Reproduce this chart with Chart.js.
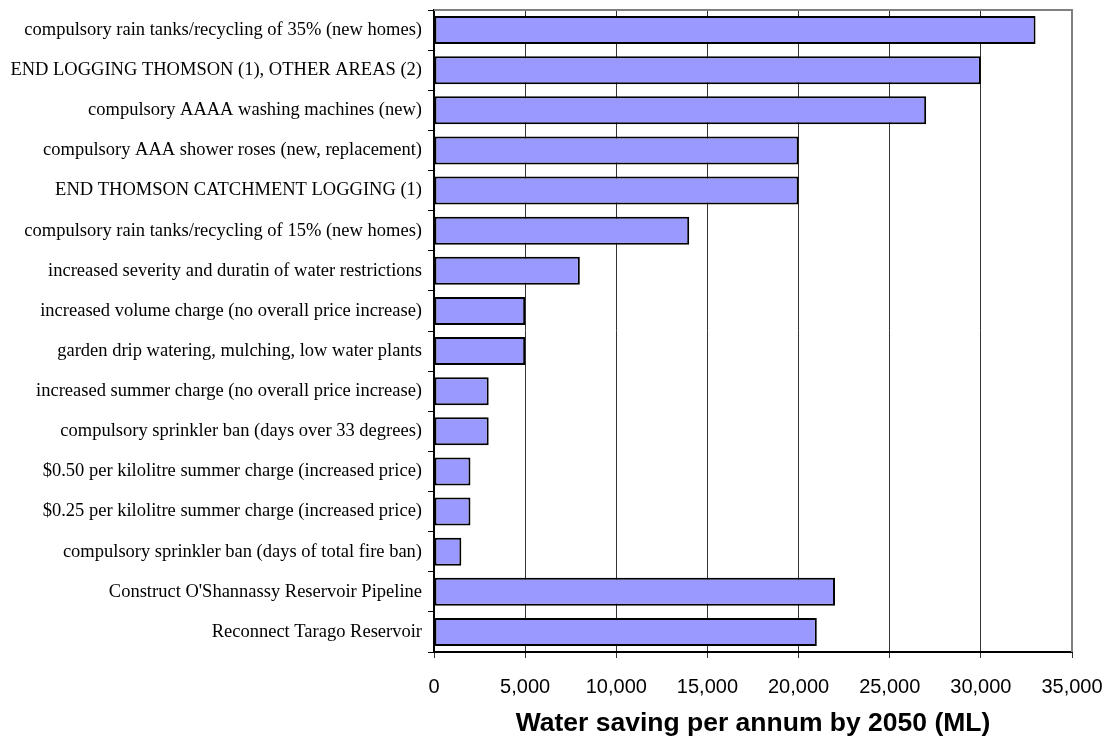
<!DOCTYPE html>
<html>
<head>
<meta charset="utf-8">
<script src="https://cdn.jsdelivr.net/npm/chart.js@4"></script>
<style>
  body { margin: 0; background: #fff; }
  #wrap { width: 1110px; height: 740px; }
</style>
</head>
<body>
<div id="wrap"><canvas id="myChart"></canvas></div>
<script>
// measures, top to bottom
var measures = [
    'compulsory rain tanks/recycling of 35% (new homes)',
    'END LOGGING THOMSON (1), OTHER AREAS (2)',
    'compulsory AAAA washing machines (new)',
    'compulsory AAA shower roses (new, replacement)',
    'END THOMSON CATCHMENT LOGGING (1)',
    'compulsory rain tanks/recycling of 15% (new homes)',
    'increased severity and duratin of water restrictions',
    'increased volume charge (no overall price increase)',
    'garden drip watering, mulching, low water plants',
    'increased summer charge (no overall price increase)',
    'compulsory sprinkler ban (days over 33 degrees)',
    '$0.50 per kilolitre summer charge (increased price)',
    '$0.25 per kilolitre summer charge (increased price)',
    'compulsory sprinkler ban (days of total fire ban)',
    "Construct O'Shannassy Reservoir Pipeline",
    'Reconnect Tarago Reservoir'
];
// ML per annum by 2050
var savings = [33000, 30000, 27000, 20000, 20000, 14000, 8000, 5000, 5000, 3000, 3000, 2000, 2000, 1500, 22000, 21000];
var xTicks = [0, 5000, 10000, 15000, 20000, 25000, 30000, 35000];

// gray frame on top and right of the plot
var frame = {
    id: 'frame',
    beforeDatasetsDraw: function (chart) {
        var a = chart.chartArea, c = chart.ctx;
        c.save();
        c.strokeStyle = '#808080';
        c.lineWidth = 2;
        c.beginPath();
        c.moveTo(a.left, a.top);
        c.lineTo(a.right, a.top);
        c.lineTo(a.right, a.bottom);
        c.stroke();
        c.restore();
    }
};

var ctx = document.getElementById('myChart').getContext('2d');
var chart = new Chart(ctx, {
    type: 'bar',
    data: {
        labels: measures,
        datasets: [{
            data: savings,
            backgroundColor: '#9999FF',
            borderColor: '#000',
            borderWidth: 2,
            borderSkipped: false,
            categoryPercentage: 1,
            barPercentage: 0.7
        }]
    },
    plugins: [frame],
    options: {
        indexAxis: 'y',
        responsive: true,
        maintainAspectRatio: false,
        animation: false,
        layout: { padding: { left: 0, top: 10, right: 38, bottom: 0 } },
        plugins: {
            legend: { display: false },
            tooltip: { enabled: false }
        },
        scales: {
            x: {
                min: 0,
                max: 35000,
                afterBuildTicks: function (s) {
                    s.ticks = xTicks.map(function (v) { return { value: v }; });
                },
                afterFit: function (s) {
                    s.height = 88;
                    s.paddingLeft = 0;
                    s.paddingRight = 0;
                },
                grid: { color: '#333', lineWidth: 1, tickLength: 6 },
                border: { color: '#000', width: 2 },
                ticks: {
                    color: '#000',
                    padding: 17,
                    maxRotation: 0,
                    font: { family: 'Liberation Sans, Arial', size: 20 },
                    callback: function (v) { return v.toLocaleString('en-US'); }
                },
                title: {
                    display: true,
                    text: 'Water saving per annum by 2050 (ML)',
                    color: '#000',
                    padding: { top: 4, bottom: 0 },
                    font: { family: 'Liberation Sans, Arial', size: 26.5, weight: 'bold' }
                }
            },
            y: {
                afterFit: function (s) {
                    s.width = 434;
                    s.paddingTop = 0;
                    s.paddingBottom = 0;
                },
                grid: { offset: true, drawOnChartArea: false, color: '#000', tickLength: 6 },
                border: { color: '#000', width: 2 },
                ticks: {
                    color: '#000',
                    padding: 6,
                    autoSkip: false,
                    font: { family: 'Liberation Serif, Times New Roman', size: 18.5 }
                }
            }
        }
    }
});
</script>
</body>
</html>
